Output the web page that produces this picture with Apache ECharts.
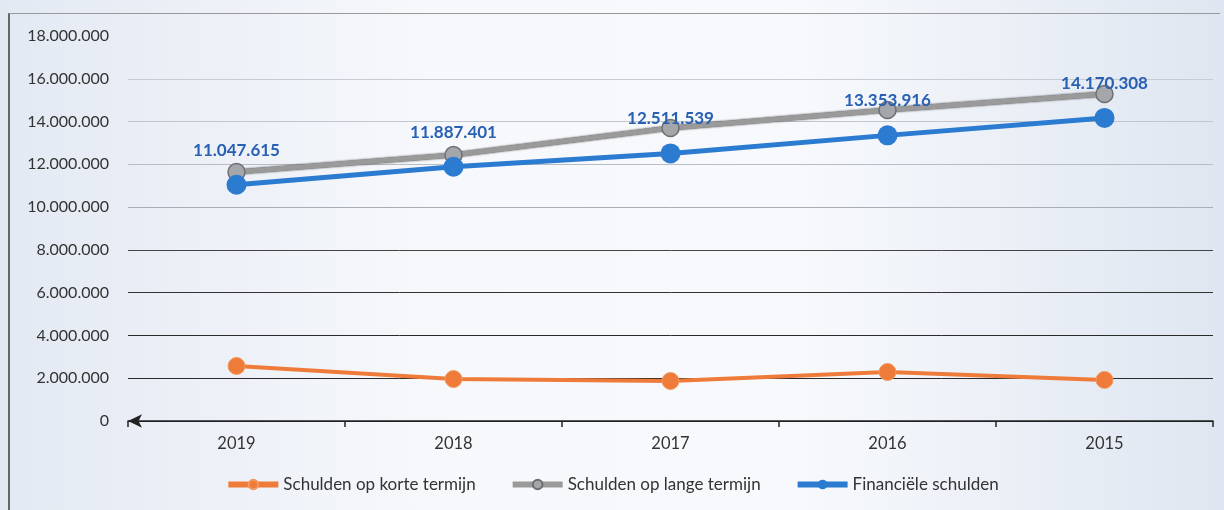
<!doctype html>
<html>
<head>
<meta charset="utf-8">
<title>Schulden</title>
<style>
	html, body {
		margin: 0;
		padding: 0;
		background: #e6ebf3;
	}
	#main {
		width: 1224px;
		height: 510px;
		background: linear-gradient(90deg, #e3e9f3 0%, #f6f8fb 35%, #f7f9fc 65%, #dfe6f1 100%);
	}
	.frame {
		position: absolute;
		left: 8px;
		top: 13px;
		width: 1210px;
		height: 497px;
		border-left: 2px solid #666;
		border-top: 1px solid #999;
		pointer-events: none;
	}
</style>
<script src="https://cdn.jsdelivr.net/npm/echarts@6/dist/echarts.min.js"></script>
</head>
<body>
<div id="main"></div>
<div class="frame"></div>
<script>
	// jaren (zoals in de grafiek, van nieuw naar oud)
	var jaren = ['2019', '2018', '2017', '2016', '2015'];
	// waarden
	var korteTermijn = [2570000, 1960000, 1870000, 2290000, 1920000];
	var langeTermijn = [11640000, 12440000, 13700000, 14540000, 15290000];
	var financieel = [11047615, 11887401, 12511539, 13353916, 14170308];
	var gridKleuren = ['#222', '#2a2a2a', '#2a2a2a', '#333', '#444', '#a9adb5', '#b8bcc3', '#c2c5cb', '#c8ccd2', 'rgba(0,0,0,0)'];

	function punt(n) {
		return String(Math.round(n)).replace(/\B(?=(\d{3})+(?!\d))/g, '.');
	}

	var myChart = echarts.init(document.getElementById('main'));
	var font = 'Lato, "Open Sans", sans-serif';

	var option = {
		animation: false,
		textStyle: { fontFamily: font },
		grid: { left: 128, right: 11, top: 36, bottom: 89 },
		legend: {
			bottom: 12,
			left: 'center',
			itemWidth: 50,
			itemHeight: 12,
			itemGap: 34,
			lineStyle: { width: 6 },
			textStyle: { fontSize: 17, color: '#333', fontFamily: font },
			data: ['Schulden op korte termijn', 'Schulden op lange termijn', 'Financiële schulden']
		},
		xAxis: {
			type: 'category',
			data: jaren,
			boundaryGap: true,
			axisLine: {
				lineStyle: { color: '#222', width: 1.5 },
				symbol: ['arrow', 'none'],
				symbolSize: [10, 14]
			},
			axisTick: { show: true, length: 6, lineStyle: { color: '#222', width: 1.5 } },
			axisLabel: { fontSize: 16.5, color: '#333', margin: 14 }
		},
		yAxis: {
			type: 'value',
			min: 0,
			max: 18000000,
			interval: 2000000,
			axisLine: { show: false },
			axisTick: { show: false },
			splitLine: { lineStyle: { color: gridKleuren, width: 1 } },
			axisLabel: {
				fontSize: 16,
				color: '#333',
				margin: 19,
				formatter: function (v) { return punt(v); }
			}
		},
		series: [
			{
				name: 'Schulden op korte termijn',
				type: 'line',
				data: korteTermijn,
				symbol: 'circle',
				symbolSize: 17,
				lineStyle: { color: '#ee7b3a', width: 4 },
				itemStyle: { color: '#ee7b3a', borderColor: '#f29a60', borderWidth: 1 },
				z: 3
			},
			{
				name: 'Schulden op lange termijn',
				type: 'line',
				data: langeTermijn,
				symbol: 'circle',
				symbolSize: 17,
				lineStyle: { color: '#9a9a9a', width: 5, shadowColor: '#333', shadowBlur: 2 },
				itemStyle: { color: '#a4a6aa', borderColor: '#6d6f73', borderWidth: 1.5 },
				z: 2
			},
			{
				name: 'Financiële schulden',
				type: 'line',
				data: financieel,
				symbol: 'circle',
				symbolSize: 20,
				lineStyle: { color: '#2b7bd0', width: 5 },
				itemStyle: { color: '#2b7bd0' },
				label: {
					show: true,
					position: 'top',
					distance: 16,
					color: '#2860b4',
					fontWeight: 'bold',
					fontSize: 17,
					formatter: function (p) { return punt(p.value); }
				},
				z: 4
			}
		]
	};
	myChart.setOption(option);
</script>
</body>
</html>
